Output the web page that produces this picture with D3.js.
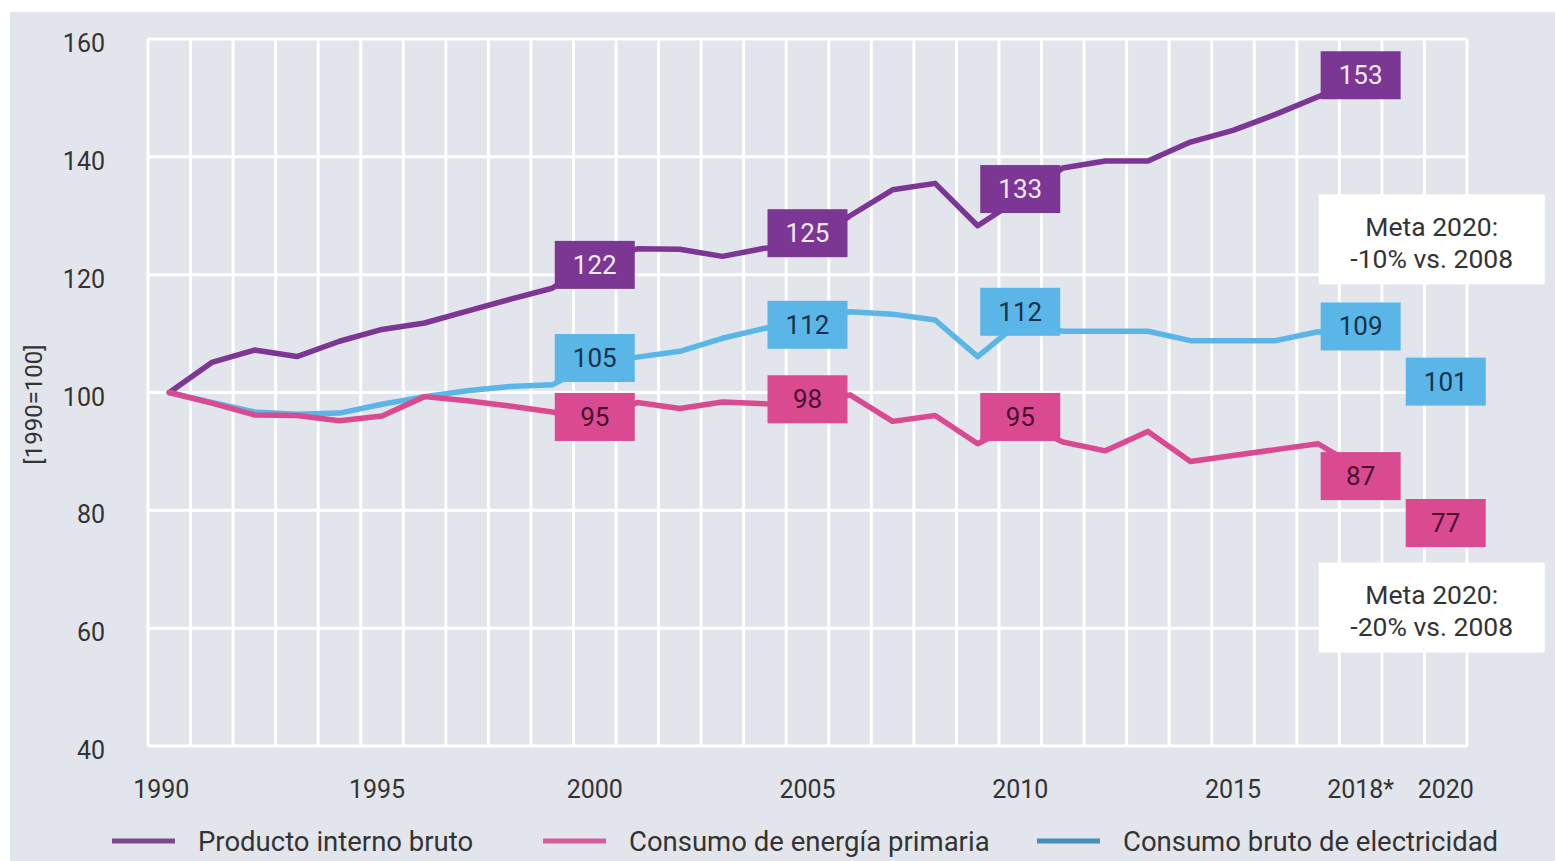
<!DOCTYPE html>
<html>
<head>
<meta charset="utf-8">
<script src="https://cdn.jsdelivr.net/npm/d3@7"></script>
<style>
  html, body { margin: 0; padding: 0; background: #ffffff; }
  svg { display: block; font-family: Roboto, "Noto Sans", sans-serif; }
</style>
</head>
<body>
<svg id="chart" width="1555" height="861"></svg>
<script>
// ---- data (index, 1990 = 100) ----
const years = [1990, 1991, 1992, 1993, 1994, 1995, 1996, 1997, 1998, 1999,
               2000, 2001, 2002, 2003, 2004, 2005, 2006, 2007, 2008, 2009,
               2010, 2011, 2012, 2013, 2014, 2015, 2016, 2017, 2018];
const axisYears = [1990, 1991, 1992, 1993, 1994, 1995, 1996, 1997, 1998, 1999,
                   2000, 2001, 2002, 2003, 2004, 2005, 2006, 2007, 2008, 2009,
                   2010, 2011, 2012, 2013, 2014, 2015, 2016, 2017, 2018, 2019, 2020];

const gdp = [100, 105.1, 107.2, 106.1, 108.7, 110.7, 111.8, 113.8, 115.8, 117.7,
             122, 124.4, 124.3, 123.1, 124.5, 125, 130.0, 134.4, 135.5, 128.3,
             133, 138.1, 139.3, 139.3, 142.5, 144.5, 147.2, 150.2, 153];
const energy = [100, 98.2, 96.2, 96.1, 95.2, 96.0, 99.3, 98.6, 97.7, 96.7,
                95, 98.3, 97.3, 98.4, 98.1, 98, 99.6, 95.1, 96.1, 91.3,
                95, 91.6, 90.1, 93.4, 88.3, 89.3, 90.3, 91.3, 87];
const electricity = [100, 98.3, 96.7, 96.3, 96.5, 98.0, 99.3, 100.3, 101.0, 101.3,
                     105, 106.0, 107.0, 109.2, 110.9, 112, 113.7, 113.3, 112.3, 106.1,
                     112, 110.4, 110.4, 110.4, 108.8, 108.8, 108.8, 110.3, 109];

const targetYear = 2020;
const targetEnergy = 77;
const targetElectricity = 101;

const labelYears = [2000, 2005, 2010, 2018];

const xTickYears = [1990, 1995, 2000, 2005, 2010, 2015, 2018, 2020];
const xTickLabels = ["1990", "1995", "2000", "2005", "2010", "2015", "2018*", "2020"];
const yTicks = [40, 60, 80, 100, 120, 140, 160];

const seriesNames = ["Producto interno bruto", "Consumo de energía primaria", "Consumo bruto de electricidad"];
const noteLines = [["Meta 2020:", "-10% vs. 2008"], ["Meta 2020:", "-20% vs. 2008"]];
const noteLevels = [126, 63.5];
const yTitle = "[1990=100]";

// ---- styling ----
const C = {
  bg: "#e3e5ec",
  grid: "#ffffff",
  text: "#333333",
  purple: "#7b3793",
  pink: "#da4a91",
  blue: "#5ab6e6"
};

const svg = d3.select("#chart");
const W = 1555, H = 861;
const plot = { left: 148, right: 1467, top: 39, bottom: 746 };

svg.append("rect").attr("x", 0).attr("y", 0).attr("width", W).attr("height", H).attr("fill", "#ffffff");
svg.append("rect").attr("x", 10).attr("y", 12).attr("width", W - 10).attr("height", H - 12).attr("fill", C.bg);

const x = d3.scaleBand().domain(axisYears).range([plot.left, plot.right]).padding(0);
const cx = yr => x(yr) + x.bandwidth() / 2;
const y = d3.scaleLinear().domain([40, 160]).range([plot.bottom, plot.top]);

// grid: horizontal at value ticks, vertical at every year boundary
const grid = svg.append("g").attr("stroke", C.grid).attr("stroke-width", 3);
grid.selectAll("line.h").data(yTicks).join("line")
  .attr("x1", plot.left).attr("x2", plot.right)
  .attr("y1", d => y(d)).attr("y2", d => y(d));
const edges = axisYears.map(d => x(d)).concat([x(axisYears[axisYears.length - 1]) + x.bandwidth()]);
grid.selectAll("line.v").data(edges).join("line")
  .attr("x1", d => d).attr("x2", d => d)
  .attr("y1", plot.top).attr("y2", plot.bottom);

// axes
const yAxis = svg.append("g").attr("transform", `translate(${plot.left},0)`)
  .call(d3.axisLeft(y).tickValues(yTicks).tickSize(0).tickPadding(43));
yAxis.select(".domain").remove();
yAxis.selectAll("text").attr("font-size", 25).attr("fill", C.text)
  .attr("font-family", "Roboto, sans-serif").attr("dy", "0.5em");

const xAxis = svg.append("g").attr("transform", `translate(0,${plot.bottom})`)
  .call(d3.axisBottom(x).tickValues(xTickYears).tickSize(0).tickPadding(34)
    .tickFormat(d => xTickLabels[xTickYears.indexOf(d)]));
xAxis.select(".domain").remove();
xAxis.selectAll("text").attr("font-size", 25).attr("fill", C.text).attr("font-family", "Roboto, sans-serif")
  .attr("dx", d => d === 1990 ? -8 : (d === 1995 ? -5 : 0));

svg.append("text")
  .attr("transform", `translate(36,${(plot.top + plot.bottom) / 2 + 12}) rotate(-90)`)
  .attr("text-anchor", "middle").attr("dominant-baseline", "middle")
  .attr("font-size", 24).attr("fill", C.text).text(yTitle);

// lines
const series = [
  { name: seriesNames[0], values: gdp, color: C.purple, legendColor: "#7a4a8e", labelText: "#f3e9f7" },
  { name: seriesNames[1], values: energy, color: C.pink, legendColor: "#d65c9b", labelText: "#4a0f2e" },
  { name: seriesNames[2], values: electricity, color: C.blue, legendColor: "#4590b8", labelText: "#17324a" }
];
const line = d3.line().x(d => cx(d.year)).y(d => y(d.v));
const drawOrder = [0, 2, 1];
svg.append("g").selectAll("path").data(drawOrder.map(i => series[i])).join("path")
  .attr("d", s => line(years.map((yr, i) => ({ year: yr, v: s.values[i] }))))
  .attr("fill", "none").attr("stroke", s => s.color).attr("stroke-width", 5.5)
  .attr("stroke-linejoin", "round").attr("stroke-linecap", "round");

// value boxes
const boxes = [];
series.forEach((s, si) => {
  labelYears.forEach(yr => boxes.push({ year: yr, v: s.values[years.indexOf(yr)], s, key: si + "-" + yr }));
});
boxes.push({ year: targetYear, v: targetElectricity, s: series[2], key: "2-" + targetYear });
boxes.push({ year: targetYear, v: targetEnergy, s: series[1], key: "1-" + targetYear });

// vertical placement of each box relative to its point (px, positive = down)
const boxShift = {
  "0-2000": 2, "0-2005": -12, "0-2010": -9, "0-2018": -5,
  "1-2000": -5, "1-2005": -5, "1-2010": -5, "1-2018": 7,
  "2-2000": -5, "2-2005": 3, "2-2010": -10, "2-2018": -13,
  "1-2020": -5, "2-2020": -5
};
const bw = 80, bh = 48;
const bg = svg.append("g").selectAll("g").data(boxes).join("g")
  .attr("transform", d => `translate(${cx(d.year)},${y(d.v) + (boxShift[d.key] || 0)})`);
bg.append("rect").attr("x", -bw / 2).attr("y", -bh / 2).attr("width", bw).attr("height", bh)
  .attr("fill", d => d.s.color);
bg.append("text").attr("text-anchor", "middle").attr("dominant-baseline", "central")
  .attr("font-size", 26).attr("fill", d => d.s.labelText).text(d => d3.format("d")(d.v));

// target notes
const ng = svg.append("g").selectAll("g").data(noteLines).join("g")
  .attr("transform", (d, i) => `translate(${cx(targetYear) - 14},${y(noteLevels[i])})`);
ng.append("rect").attr("x", -113).attr("y", -45).attr("width", 226).attr("height", 90).attr("fill", "#ffffff");
ng.selectAll("text").data(d => d).join("text")
  .attr("text-anchor", "middle").attr("dominant-baseline", "central")
  .attr("y", (d, i) => (i - 0.5) * 32 + 3)
  .attr("font-size", 26.5).attr("fill", C.text).text(d => d);

// legend
const legendX = [112, 543, 1037];
const lg = svg.append("g").selectAll("g").data(series).join("g")
  .attr("transform", (d, i) => `translate(${legendX[i]},841)`);
lg.append("line").attr("x1", 0).attr("x2", 63).attr("y1", 0).attr("y2", 0)
  .attr("stroke", d => d.legendColor).attr("stroke-width", 5);
lg.append("text").attr("x", 86).attr("dominant-baseline", "central")
  .attr("font-size", 27.5).attr("fill", C.text).text(d => d.name);
</script>
</body>
</html>
